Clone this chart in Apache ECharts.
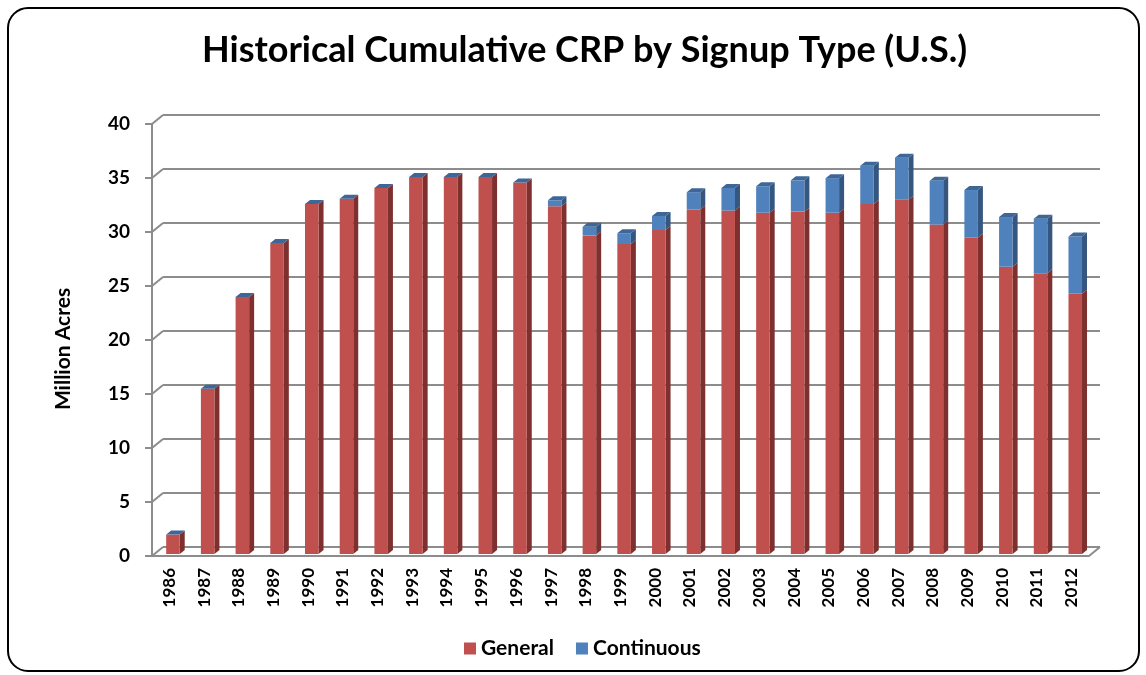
<!DOCTYPE html>
<html>
<head>
<meta charset="utf-8">
<script src="https://cdn.jsdelivr.net/npm/echarts@6/dist/echarts.min.js"></script>
<style>
    html, body { margin: 0; padding: 0; background: #fff; }
    #chart { width: 1146px; height: 675px; }
</style>
</head>
<body>
<div id="chart"></div>
<script>
/* 数据 */
let years = ['1986', '1987', '1988', '1989', '1990', '1991', '1992', '1993', '1994',
    '1995', '1996', '1997', '1998', '1999', '2000', '2001', '2002', '2003', '2004',
    '2005', '2006', '2007', '2008', '2009', '2010', '2011', '2012'];
let general = [1.8, 15.3, 23.8, 28.8, 32.4, 32.9, 33.9, 34.9, 34.9, 34.9, 34.4, 32.2,
    29.5, 28.7, 30.0, 31.9, 31.8, 31.6, 31.7, 31.6, 32.4, 32.8, 30.5, 29.3, 26.6, 26.0, 24.1];
let continuous = [0, 0, 0, 0, 0, 0, 0, 0, 0, 0, 0, 0.55, 0.8, 1.0, 1.3, 1.6, 2.1, 2.45,
    2.9, 3.2, 3.55, 3.9, 4.05, 4.4, 4.6, 5.05, 5.3];
let yTicks = [0, 5, 10, 15, 20, 25, 30, 35, 40];

let font = 'Lato, "Open Sans", sans-serif';
let gridColor = '#8c8c8c';

window.onload = function () {
    drawChart();
};

/* 画一根带侧面和顶面的柱子 */
let bar3d = function (api, faces) {
    let i = api.value(0);
    let p0 = api.coord([i, api.value(1)]);
    let p1 = api.coord([i, api.value(2)]);
    let band = api.size([1, 0])[0];
    let w = band * 0.39;
    let x = p0[0] - w / 2 + 3.6;
    let yb = p0[1] - 2, yt = p1[1] - 2;
    let dx = 5, dy = -4;
    let children = [
        {
            type: 'polygon',
            shape: { points: [[x + w, yb], [x + w + dx, yb + dy], [x + w + dx, yt + dy], [x + w, yt]] },
            style: { fill: faces.side }
        },
        {
            type: 'rect',
            shape: { x: x, y: yt, width: w, height: yb - yt },
            style: { fill: faces.front }
        }
    ];
    if (faces.top) {
        children.push({
            type: 'polygon',
            shape: { points: [[x, yt], [x + dx, yt + dy], [x + w + dx, yt + dy], [x + w, yt]] },
            style: { fill: faces.top }
        });
    }
    return { type: 'group', children: children };
};

let drawChart = function () {
    let myChart = echarts.init(document.getElementById('chart'));

    let genData = [], contData = [];
    years.forEach(function (y, i) {
        genData.push([i, 0, general[i]]);
        contData.push([i, general[i], general[i] + continuous[i]]);
    });
    let tickData = yTicks.map(function (t) { return [0, t]; });

    let options = {
        backgroundColor: '#fff',
        animation: false,
        title: {
            text: 'Historical Cumulative CRP by Signup Type (U.S.)',
            left: 197,
            top: 27,
            textStyle: { fontFamily: font, fontWeight: 'bold', fontSize: 36, color: '#000' }
        },
        legend: {
            bottom: 11,
            left: 459,
            icon: 'rect',
            itemWidth: 12,
            itemHeight: 12,
            itemGap: 22,
            data: ['General', 'Continuous'],
            textStyle: { fontFamily: font, fontWeight: 'bold', fontSize: 21, color: '#000' }
        },
        graphic: [
            {
                type: 'rect',
                shape: { x: 8, y: 8, width: 1131, height: 663, r: 20 },
                style: { fill: 'none', stroke: '#000', lineWidth: 2 },
                silent: true
            }
        ],
        grid: [
            { left: 152, right: 57, top: 124, bottom: 119 },
            { left: 163, right: 46, top: 115, bottom: 128 }
        ],
        xAxis: [
            {
                type: 'category',
                gridIndex: 0,
                data: years,
                axisLine: { lineStyle: { color: gridColor, width: 2 } },
                axisTick: { length: 6, lineStyle: { color: gridColor, width: 2 } },
                axisLabel: {
                    rotate: 90,
                    margin: 12,
                    color: '#000',
                    fontFamily: font,
                    fontWeight: 'bold',
                    fontSize: 17,
                    interval: 0
                }
            },
            { type: 'category', gridIndex: 1, data: years, show: false }
        ],
        yAxis: [
            {
                type: 'value',
                gridIndex: 0,
                min: 0,
                max: 40,
                interval: 5,
                name: 'Million Acres',
                nameLocation: 'middle',
                nameRotate: 90,
                nameGap: 78,
                nameTextStyle: {
                    fontFamily: font, fontWeight: 'bold', fontSize: 21, color: '#000',
                    padding: [0, 18, 0, 0]
                },
                axisLine: { show: true, lineStyle: { color: gridColor, width: 2 } },
                axisTick: { show: true, length: 7, lineStyle: { color: gridColor, width: 2 } },
                axisLabel: { margin: 22, color: '#000', fontFamily: font, fontWeight: 'bold', fontSize: 19 },
                splitLine: { show: false }
            },
            {
                type: 'value',
                gridIndex: 1,
                min: 0,
                max: 40,
                interval: 5,
                axisLine: { show: false },
                axisTick: { show: false },
                axisLabel: { show: false },
                splitLine: { lineStyle: { color: gridColor, width: 2 } }
            }
        ],
        series: [
            {
                /* 背景墙斜线 */
                type: 'custom',
                silent: true,
                xAxisIndex: 0,
                yAxisIndex: 0,
                data: tickData,
                renderItem: function (params, api) {
                    let p = api.coord([api.value(0), api.value(1)]);
                    let band = api.size([1, 0])[0];
                    let x = p[0] - band / 2;
                    let lines = [{
                        type: 'line',
                        shape: { x1: x, y1: p[1], x2: x + 11, y2: p[1] - 9 },
                        style: { stroke: gridColor, lineWidth: 2 }
                    }];
                    if (api.value(1) === 0) {
                        let xr = x + band * years.length;
                        lines.push({
                            type: 'line',
                            shape: { x1: xr, y1: p[1], x2: xr + 11, y2: p[1] - 9 },
                            style: { stroke: gridColor, lineWidth: 2 }
                        });
                    }
                    return { type: 'group', children: lines };
                },
                encode: { x: 0, y: 1 },
                z: 1
            },
            {
                name: 'General',
                type: 'custom',
                xAxisIndex: 0,
                yAxisIndex: 0,
                itemStyle: { color: '#C0504D' },
                data: genData,
                encode: { x: 0, y: 2 },
                renderItem: function (params, api) {
                    return bar3d(api, { front: '#C0504D', side: '#7E302E' });
                },
                z: 3
            },
            {
                name: 'Continuous',
                type: 'custom',
                xAxisIndex: 0,
                yAxisIndex: 0,
                itemStyle: { color: '#4F81BD' },
                data: contData,
                encode: { x: 0, y: 2 },
                renderItem: function (params, api) {
                    return bar3d(api, { front: '#4F81BD', side: '#34567F', top: '#3E6798' });
                },
                z: 4
            }
        ]
    };
    myChart.setOption(options);
};
</script>
</body>
</html>
